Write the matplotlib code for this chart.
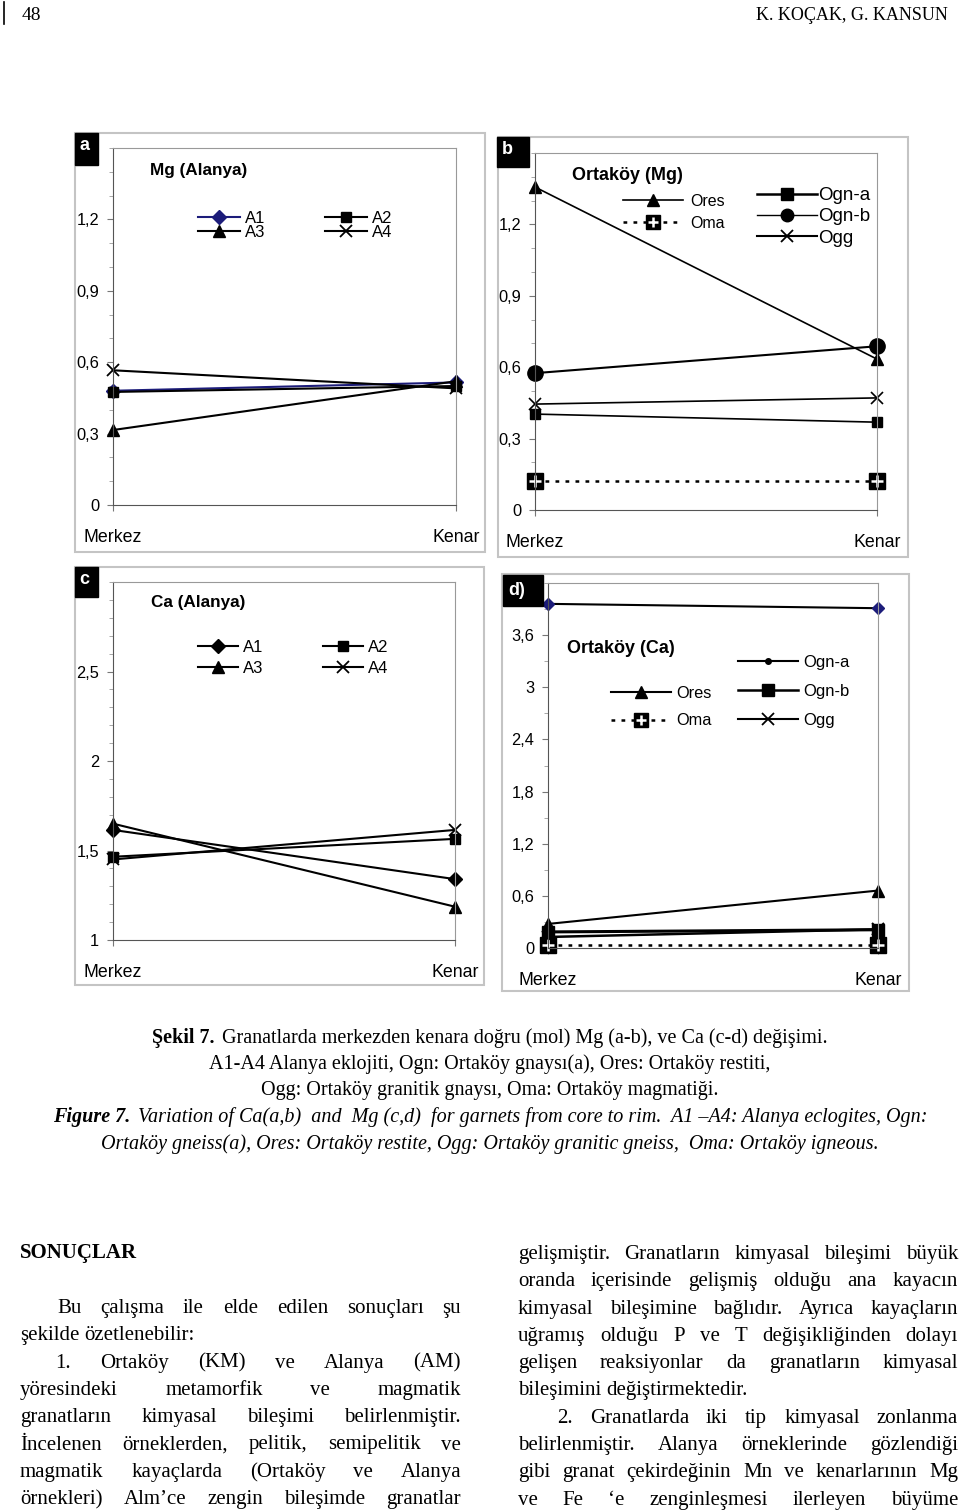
import matplotlib
matplotlib.use('Agg')
import matplotlib.pyplot as plt
from matplotlib.patches import Rectangle
from matplotlib.lines import Line2D
from matplotlib.legend import Legend
from matplotlib.ticker import FixedLocator, MultipleLocator, FuncFormatter

W, H = 960, 1512

# shared x axis: core -> rim
positions = [0, 1]
x_labels = ['Merkez', 'Kenar']

# a) Mg, Alanya eclogites
mg_a1 = [0.48, 0.515]
mg_a2 = [0.475, 0.50]
mg_a3 = [0.315, 0.52]
mg_a4 = [0.566, 0.49]

# b) Mg, Ortakoy
mg_ores = [1.357, 0.634]
mg_oma = [0.122, 0.122]
mg_ogn_a = [0.403, 0.369]
mg_ogn_b = [0.575, 0.688]
mg_ogg = [0.445, 0.471]

# c) Ca, Alanya eclogites
ca_a1 = [1.615, 1.34]
ca_a2 = [1.465, 1.565]
ca_a3 = [1.65, 1.186]
ca_a4 = [1.45, 1.615]

# d) Ca, Ortakoy
ca_ogn_a = [3.96, 3.91]
ca_ores = [0.277, 0.661]
ca_oma = [0.03, 0.03]
ca_ogn_b = [0.185, 0.21]
ca_ogg = [0.127, 0.215]

# y tick values per panel
ticks_mg = [0, 0.3, 0.6, 0.9, 1.2]
ticks_ca_alanya = [1, 1.5, 2, 2.5]
ticks_ca_ortakoy = [0, 0.6, 1.2, 1.8, 2.4, 3, 3.6]

SANS = 'Liberation Sans'
SERIF = 'Liberation Serif'
NAVY = '#1c1c7a'

fig = plt.figure(figsize=(9.6, 15.12), dpi=100)
renderer = fig.canvas.get_renderer()


def fig_rect(x0, y0, x1, y1):
    return [x0 / W, 1 - y1 / H, (x1 - x0) / W, (y1 - y0) / H]


def fx(x):
    return x / W


def fy(y):
    return 1 - y / H


def comma(v, pos):
    return f'{v:g}'.replace('.', ',')


def style_axes(ax, ylim, yticks, minor):
    ax.set_xlim(0, 1)
    ax.set_ylim(*ylim)
    ax.set_xticks(positions)
    ax.set_xticklabels(x_labels, fontsize=12.8, family=SANS)
    ax.yaxis.set_major_locator(FixedLocator(yticks))
    ax.yaxis.set_minor_locator(MultipleLocator(minor))
    ax.yaxis.set_major_formatter(FuncFormatter(comma))
    for lab in ax.get_yticklabels():
        lab.set_family(SANS)
    ax.tick_params(axis='y', which='major', length=4, color='#777', pad=6, labelsize=11.8)
    ax.tick_params(axis='y', which='minor', length=3, color='#999')
    ax.tick_params(axis='x', length=4, color='#777', pad=13)
    for s in ['left', 'bottom']:
        ax.spines[s].set_color('#555')
    for s in ['top', 'right']:
        ax.spines[s].set_color('#999')


def add_legend(ax, handles, labels, x_px, y_top_px, fs, ncol=1, ls=0.2, hl=2.7, hpad=0.3, colsp=2.0):
    leg = Legend(ax, handles, labels, loc='upper left',
                 bbox_to_anchor=(fx(x_px), fy(y_top_px)), bbox_transform=fig.transFigure,
                 frameon=False, borderpad=0, borderaxespad=0, ncols=ncol,
                 labelspacing=ls, handlelength=hl, handletextpad=hpad, columnspacing=colsp,
                 prop={'family': SANS, 'size': fs})
    ax.add_artist(leg)
    return leg


def frame(x0, y0, x1, y1):
    fig.patches.append(Rectangle((fx(x0), fy(y1)), (x1 - x0) / W, (y1 - y0) / H,
                                 transform=fig.transFigure, fill=False, edgecolor='#c4c4c4', lw=1.5))


def tag(x0, y0, x1, y1, s, tx, ty):
    fig.patches.append(Rectangle((fx(x0), fy(y1)), (x1 - x0) / W, (y1 - y0) / H,
                                 transform=fig.transFigure, color='black'))
    fig.text(fx(tx), fy(ty), s, color='white', fontsize=13, fontweight='bold',
             family=SANS, ha='left', va='center')


def oma_handle():
    return (Line2D([], [], color='black', ls=(0, (1.5, 2.5)), lw=1.8, marker='s', ms=10),
            Line2D([], [], ls='none', marker='+', color='white', ms=7, mew=1.8))


def line_kw(marker, ms=7, color='black', lw=1.5, mew=1.0):
    return dict(color=color, marker=marker, ms=ms, lw=lw, mew=mew, clip_on=False)


# panel frames and tags
frame(75, 133, 485, 552)
frame(498, 137, 908, 557)
frame(75, 567, 484, 985)
frame(502, 574, 909, 991)
tag(75, 133, 98, 165, 'a', 79, 146)
tag(497, 137, 529, 167, 'b', 502, 150)
tag(75, 567, 98, 597, 'c', 79, 580)
tag(503, 575, 543, 606, 'd)', 508, 591)

# ---- a) Mg (Alanya)
ax = fig.add_axes(fig_rect(113, 148, 456, 505))
style_axes(ax, (0, 1.5), ticks_mg, 0.1)
ax.plot(positions, mg_a1, **line_kw('D', 7, NAVY))
ax.plot(positions, mg_a2, **line_kw('s', 7))
ax.plot(positions, mg_a3, **line_kw('^', 8))
ax.plot(positions, mg_a4, **line_kw('x', 9, mew=1.3))
fig.text(fx(150), fy(171), 'Mg (Alanya)', fontsize=12.3, fontweight='bold', family=SANS, va='center')
h = [Line2D([], [], **line_kw('D', 7, NAVY)), Line2D([], [], **line_kw('^', 8)),
     Line2D([], [], **line_kw('s', 7)), Line2D([], [], **line_kw('x', 9, mew=1.3))]
add_legend(ax, h, ['A1', 'A3', 'A2', 'A4'], 198, 211, 12, ncol=2, ls=-0.08, hl=2.5, hpad=0.3, colsp=3.6)

# ---- b) Ortakoy (Mg)
ax = fig.add_axes(fig_rect(535, 153, 877, 510))
style_axes(ax, (0, 1.5), ticks_mg, 0.1)
ax.plot(positions, mg_ores, **line_kw('^', 9, lw=1.2))
ax.plot(positions, mg_oma, color='black', ls=(0, (1.5, 2.5)), lw=1.8, clip_on=False)
ax.plot(positions, mg_oma, ls='none', marker='s', ms=11, color='black', clip_on=False)
ax.plot(positions, mg_oma, ls='none', marker='+', ms=8, mew=1.8, color='white', clip_on=False)
ax.plot(positions, mg_ogn_a, **line_kw('s', 7, lw=1.2))
ax.plot(positions, mg_ogn_b, **line_kw('o', 11))
ax.plot(positions, mg_ogg, **line_kw('x', 9, lw=1.2, mew=1.2))
fig.text(fx(572), fy(175), 'Ortaköy (Mg)', fontsize=13, fontweight='bold', family=SANS, va='center')
add_legend(ax, [Line2D([], [], **line_kw('^', 9, lw=1.2)), oma_handle()], ['Ores', 'Oma'],
           623, 194, 11.5, ls=0.42, hl=3.75, hpad=0.45)
add_legend(ax, [Line2D([], [], **line_kw('s', 8, lw=1.8)), Line2D([], [], **line_kw('o', 9, lw=1.0)),
                Line2D([], [], **line_kw('x', 9, lw=1.5, mew=1.3))],
           ['Ogn-a', 'Ogn-b', 'Ogg'], 757, 187, 13.5, ls=0.22, hl=3.2, hpad=0.05)

# ---- c) Ca (Alanya)
ax = fig.add_axes(fig_rect(113, 582, 455, 940))
style_axes(ax, (1, 3), ticks_ca_alanya, 0.1)
ax.plot(positions, ca_a1, **line_kw('D', 7))
ax.plot(positions, ca_a2, **line_kw('s', 7))
ax.plot(positions, ca_a3, **line_kw('^', 8))
ax.plot(positions, ca_a4, **line_kw('x', 9, mew=1.3))
fig.text(fx(151), fy(603), 'Ca (Alanya)', fontsize=12.3, fontweight='bold', family=SANS, va='center')
h = [Line2D([], [], **line_kw('D', 7)), Line2D([], [], **line_kw('^', 8)),
     Line2D([], [], **line_kw('s', 7)), Line2D([], [], **line_kw('x', 9, mew=1.3))]
add_legend(ax, h, ['A1', 'A3', 'A2', 'A4'], 198, 640, 12, ncol=2, ls=0.37, hl=2.4, hpad=0.3, colsp=3.6)

# ---- d) Ortakoy (Ca)
ax = fig.add_axes(fig_rect(548, 583, 878, 948))
style_axes(ax, (0, 4.2), ticks_ca_ortakoy, 0.3)
ax.plot(positions, ca_ogn_a, color='black', lw=1.5, marker='D', ms=6, mfc=NAVY, mec=NAVY, clip_on=False)
ax.plot(positions, ca_ores, **line_kw('^', 9))
ax.plot(positions, ca_oma, color='black', ls=(0, (1.5, 2.5)), lw=1.8, clip_on=False)
ax.plot(positions, ca_oma, ls='none', marker='s', ms=11, color='black', clip_on=False)
ax.plot(positions, ca_oma, ls='none', marker='+', ms=8, mew=1.8, color='white', clip_on=False)
ax.plot(positions, ca_ogn_b, **line_kw('s', 8, lw=2.2))
ax.plot(positions, ca_ogg, **line_kw('x', 8, lw=1.8, mew=1.5))
fig.text(fx(567), fy(649), 'Ortaköy (Ca)', fontsize=13, fontweight='bold', family=SANS, va='center')
add_legend(ax, [Line2D([], [], **line_kw('^', 9)), oma_handle()], ['Ores', 'Oma'],
           611, 686, 11.8, ls=0.75, hl=3.66, hpad=0.3)
add_legend(ax, [Line2D([], [], **line_kw('o', 4)), Line2D([], [], **line_kw('s', 9, lw=1.8)),
                Line2D([], [], **line_kw('x', 9, mew=1.3))],
           ['Ogn-a', 'Ogn-b', 'Ogg'], 738, 655, 12, ls=0.85, hl=3.6, hpad=0.3)


# ---- page text
def text_w(s, **kw):
    t = fig.text(0, 0, s, **kw)
    w = t.get_window_extent(renderer).width
    t.remove()
    return w


def put(x, y, s, **kw):
    # y is the visual middle of the line; place on a shared baseline
    fig.text(fx(x), fy(y + 5), s, va='baseline', **kw)


# header
fig.add_artist(Line2D([fx(4), fx(4)], [fy(2), fy(24)], color='black', lw=1.2))
put(22, 15, '48', fontsize=14, family=SERIF)
put(948, 15, 'K. KOÇAK, G. KANSUN', fontsize=13, family=SERIF, ha='right')

# caption (runs: text, weight, style)
caption = [
    (1038, [('Şekil 7.', 'bold', 'normal'),
            ('Granatlarda merkezden kenara doğru (mol) Mg (a-b), ve Ca (c-d) değişimi.', 'normal', 'normal')]),
    (1064, [('A1-A4 Alanya eklojiti, Ogn: Ortaköy gnaysı(a), Ores: Ortaköy restiti,', 'normal', 'normal')]),
    (1090, [('Ogg: Ortaköy granitik gnaysı, Oma: Ortaköy magmatiği.', 'normal', 'normal')]),
    (1117, [('Figure 7.', 'bold', 'italic'),
            ('Variation of Ca(a,b)  and  Mg (c,d)  for garnets from core to rim.  A1 –A4: Alanya eclogites, Ogn:',
             'normal', 'italic')]),
    (1144, [('Ortaköy gneiss(a), Ores: Ortaköy restite, Ogg: Ortaköy granitic gneiss,  Oma: Ortaköy igneous.',
             'normal', 'italic')]),
]
CAP_FS = 14.5
for y, runs in caption:
    widths = [text_w(s, fontsize=CAP_FS, family=SERIF, fontweight=wt, fontstyle=st) for s, wt, st in runs]
    gap = 8
    total = sum(widths) + gap * (len(runs) - 1)
    x = 490 - total / 2
    for (s, wt, st), wd in zip(runs, widths):
        put(x, y, s, fontsize=CAP_FS, family=SERIF, fontweight=wt, fontstyle=st, ha='left')
        x += wd + gap

# body text, two justified columns
BODY_FS = 15


def justify(line, x0, x1, y, indent=0, last=False):
    words = line.split()
    fs = BODY_FS
    while True:
        sp = text_w('x x', fontsize=fs, family=SERIF) - text_w('xx', fontsize=fs, family=SERIF)
        ws = [text_w(w, fontsize=fs, family=SERIF) for w in words]
        if last or len(words) == 1:
            gap = sp
            break
        gap = (x1 - x0 - indent - sum(ws)) / (len(words) - 1)
        if gap >= 0.6 * sp:
            break
        fs -= 0.25
    x = x0 + indent
    for w, wd in zip(words, ws):
        put(x, y, w, fontsize=fs, family=SERIF, ha='left')
        x += wd + gap


put(20, 1253, 'SONUÇLAR', fontsize=BODY_FS, family=SERIF, fontweight='bold', ha='left')

left_col = [
    ('Bu çalışma ile elde edilen sonuçları şu', 37, False),
    ('şekilde özetlenebilir:', 0, True),
    ('1. Ortaköy (KM) ve Alanya (AM)', 35, False),
    ('yöresindeki metamorfik ve magmatik', 0, False),
    ('granatların kimyasal bileşimi belirlenmiştir.', 0, False),
    ('İncelenen örneklerden, pelitik, semipelitik ve', 0, False),
    ('magmatik kayaçlarda (Ortaköy ve Alanya', 0, False),
    ('örnekleri) Alm’ce zengin bileşimde granatlar', 0, False),
]
right_col = [
    ('gelişmiştir.  Granatların kimyasal bileşimi büyük', 0, False),
    ('oranda içerisinde gelişmiş olduğu ana kayacın', 0, False),
    ('kimyasal bileşimine bağlıdır.  Ayrıca kayaçların', 0, False),
    ('uğramış olduğu P ve T değişikliğinden dolayı', 0, False),
    ('gelişen reaksiyonlar da granatların kimyasal', 0, False),
    ('bileşimini değiştirmektedir.', 0, True),
    ('2. Granatlarda iki tip kimyasal zonlanma', 39, False),
    ('belirlenmiştir.  Alanya örneklerinde gözlendiği', 0, False),
    ('gibi granat çekirdeğinin Mn ve kenarlarının Mg', 0, False),
    ('ve Fe ‘e zenginleşmesi ilerleyen büyüme', 0, False),
]
LINE_H = 27.3
for i, (line, ind, last) in enumerate(left_col):
    justify(line, 20, 461, 1308 + i * LINE_H, ind, last)
for i, (line, ind, last) in enumerate(right_col):
    justify(line, 518, 958, 1254 + i * LINE_H, ind, last)

fig.savefig('out.png', dpi=100, facecolor='white')
